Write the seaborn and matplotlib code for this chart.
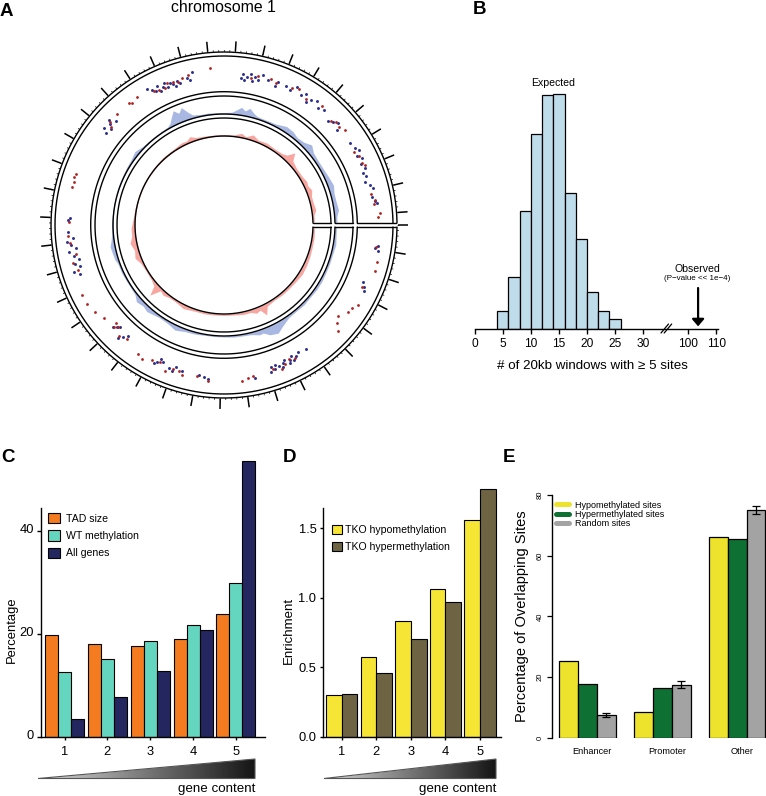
import numpy as np
import pandas as pd
import matplotlib
matplotlib.use('Agg')
import matplotlib.pyplot as plt
from matplotlib.lines import Line2D
from matplotlib.patches import Polygon
from matplotlib.transforms import ScaledTranslation
import seaborn as sns

sns.set_theme(style='ticks', rc={'axes.edgecolor': 'black', 'xtick.color': 'black', 'ytick.color': 'black',
                                 'text.color': 'black', 'axes.labelcolor': 'black', 'axes.linewidth': 1.0})
plt.rcParams['font.family'] = ['Liberation Sans', 'DejaVu Sans']

W, H = 766, 796

# panel A (degrees clockwise from 3 o'clock)
blue_deg = [1, 5, 10, 15, 20, 25, 30, 35, 40, 45, 50, 55, 60, 63.4, 67.3, 70, 72, 76, 80, 85, 90, 95, 100, 105, 110,
            115, 120, 125, 131.7, 135, 138.7, 142, 146, 150, 155, 160, 162.2, 165, 169.2, 172, 176, 180, 185, 190,
            195, 200, 205, 210, 215, 219.5, 224, 230, 236, 240, 242, 244, 246, 248, 250, 252, 254, 258, 262, 266,
            270, 274, 276, 278.5, 280.5, 282.6, 285, 287, 292, 297, 302.5, 306.6, 310, 314, 317.6, 321, 325, 330,
            335, 340, 344, 348, 352.5, 356, 359]
blue_r = [112.5, 112.5, 113.5, 112.5, 112.5, 112.5, 113, 113, 112.5, 113, 112.5, 113, 117, 121, 119, 115, 115.5, 113,
          112.5, 112.5, 112, 112, 112, 113, 113.5, 116, 113.5, 113, 116, 114.5, 116.5, 113, 112.5, 112.5, 113, 113,
          114.5, 115, 116, 114, 112.5, 112.5, 112, 112, 112, 112.5, 112.5, 113, 113.5, 115.5, 113, 112.5, 112.5, 113,
          115, 120, 125, 120.5, 125, 119, 114.5, 113, 113, 112.5, 112.5, 113, 115.5, 119, 116, 119.5, 115.5, 113.5,
          113, 113.5, 116.7, 116, 114, 115, 118.7, 115, 114, 114, 115, 116.5, 114.5, 114.5, 115.5, 113, 113]
pink_deg = [2, 8, 14, 20, 26, 32, 38, 44, 50, 56, 62, 64.6, 67, 69.7, 73, 78, 84, 90, 96, 102, 108, 116, 122, 127,
            130.9, 134, 136.6, 139, 143, 149, 155, 159.5, 164, 168.9, 173, 178, 184, 190, 196, 204, 212, 220, 228,
            236, 242.6, 246, 248.9, 252, 258, 264, 270, 276, 280.9, 284, 288, 292, 297.6, 303, 309, 312, 314.5, 317,
            322, 328, 332.3, 335, 338.2, 342, 346, 350.6, 354, 358]
pink_r = [90.5, 91, 91, 91.5, 92, 92.5, 91.5, 91, 91, 90.5, 92, 99.5, 92.5, 94, 91.5, 91.5, 90.5, 90.5, 90.5, 91, 91,
          93, 91, 91, 93, 91.5, 102, 93, 91, 90.5, 91.5, 95, 93, 95.7, 93, 93, 91, 90.5, 90, 90, 90, 90.5, 91, 91,
          92.5, 92, 94.7, 92, 91, 90.5, 90.5, 90.5, 93.3, 91, 94.7, 91.5, 92.5, 91.5, 92, 94, 101, 94, 92, 92, 93.5,
          92.5, 94.5, 92, 92, 93, 90.5, 90.5]
hypo_deg = [7.8, 8.7, 9.5, 22.5, 23.8, 25, 56.6, 60, 61.2, 62.5, 62.9, 63.8, 64.5, 66, 67, 67.5, 68.6, 69.8, 70.5,
            71.6, 72.4, 78.6, 96, 97.5, 99.5, 106, 108.5, 109.5, 111, 114, 115.2, 116, 117, 131, 132, 133, 135.5,
            136.5, 137.5, 161, 162.5, 164, 165.5, 167, 168.5, 170, 171, 172.5, 174, 175, 177.6, 181.8, 182.5, 218,
            219, 220.5, 221.5, 222.5, 223.8, 240.5, 242, 243, 244.2, 245, 246, 247, 248, 249, 250, 251, 251.8, 253,
            256, 258, 257, 276.5, 277, 278, 279, 280, 281, 282, 283, 284.5, 287, 290, 290.5, 294, 296, 298, 300.5,
            302, 303.5, 305, 307, 309, 311, 315, 316.5, 318, 320, 327, 329.5, 331, 332.5, 334, 336, 338, 339.5, 341,
            343, 344.5, 346, 349.5, 351, 352]
hypo_r = [155, 153, 156, 150, 153, 155, 149, 147, 149, 152, 147, 150, 153, 148, 150, 154, 151, 149, 153, 150, 154,
          156, 155, 153, 152, 152, 150, 155, 153, 150, 148, 152, 155, 147, 151, 155, 146, 148, 151, 152, 157, 150,
          154, 149, 153, 157, 150, 154, 158, 152, 156, 156, 154, 150, 154, 148, 152, 156, 150, 156, 153, 150, 154,
          148, 151, 154, 149, 152, 150, 147, 152, 149, 152, 156, 149, 148, 152, 146, 150, 153, 147, 151, 149, 155,
          152, 148, 153, 152, 150, 156, 151, 154, 148, 152, 155, 150, 153, 147, 150, 153, 148, 150, 152, 154, 150,
          153, 150, 152, 148, 150, 147, 151, 154, 151, 153, 155]
hyper_deg = [8.3, 13.5, 17, 24.2, 30.8, 33, 35, 38.7, 41, 43, 62, 64, 66.5, 68, 71, 79, 81, 83.6, 95.8, 100, 105.8,
             107, 109.3, 112, 115, 118, 121.7, 123.5, 130.5, 133.5, 136, 137, 138, 142.3, 146, 150, 153.8, 163, 166,
             169, 173.2, 176, 181, 194, 196, 197.8, 199, 221, 222, 225.9, 232, 233, 235.8, 242.5, 244.5, 246.5, 248,
             250.5, 252, 254, 256.5, 265, 280.5, 283, 288, 290, 296.5, 299, 303, 309.5, 316, 317.5, 319.7, 322,
             330.5, 333, 335.9, 337, 348, 350.6, 352, 355.7, 357]
hyper_r = [154, 157, 158, 151, 156, 153, 151.5, 146, 150, 156, 151, 149, 152, 155, 152, 154, 155, 157, 157, 153, 156,
           153, 153, 158, 151, 153, 157, 155, 150, 153, 147, 150, 146, 152, 155, 158, 158, 153, 156, 151, 155, 156,
           155, 157, 156, 158, 156, 150, 154, 154, 155, 153, 155, 151, 150, 149, 153, 152, 150, 153, 154, 158, 150,
           153, 153, 151, 153, 155, 150, 154, 149, 152, 151, 154, 149, 151, 151, 153, 150, 153, 151, 156, 154]
tick_mb = np.arange(0, 196, 5)
minor_mb = np.arange(0, 196, 1)
deg_per_mb = 1.825

# panel B
bin_edges = [4, 6, 8, 10, 12, 14, 16, 18, 20, 22, 24, 26]
bin_centers = [5, 7, 9, 11, 13, 15, 17, 19, 21, 23, 25]
bin_counts = [54, 156, 355, 585, 701, 704, 409, 269, 111, 54, 29]
b_ticks = [0, 5, 10, 15, 20, 25, 30, 100, 110]
observed = 103.6

# panel C
gene_bins = ['1', '2', '3', '4', '5']
tad_size = [19.9, 18.1, 17.7, 19.0, 23.8]
wt_meth = [12.7, 15.2, 18.6, 21.8, 30.0]
all_genes = [3.5, 7.8, 12.8, 20.8, 53.6]

# panel D
tko_hypo = [0.30, 0.575, 0.83, 1.06, 1.56]
tko_hyper = [0.31, 0.46, 0.70, 0.966, 1.78]

# panel E
regions = ['Enhancer', 'Promoter', 'Other']
hypo_sites = [25.3, 8.5, 66.3]
hyper_sites = [17.8, 16.5, 65.5]
random_sites = [7.5, 17.5, 75.0]
random_err = [0.8, 1.25, 1.25]

fig = plt.figure(figsize=(W / 100, H / 100), dpi=100)


def axes_px(left, top, right, bottom, **kw):
    return fig.add_axes([left / W, 1 - bottom / H, (right - left) / W, (bottom - top) / H], **kw)


def text_px(x, y, s, **kw):
    kw.setdefault('ha', 'center')
    kw.setdefault('va', 'center')
    fig.text(x / W, 1 - y / H, s, **kw)


def shift_labels(labels, dx=0, dy=0):
    off = ScaledTranslation(dx / 100, dy / 100, fig.dpi_scale_trans)
    for lab in labels:
        lab.set_transform(lab.get_transform() + off)


def gene_wedge(left, right):
    ax = axes_px(left, 759, right, 778.5)
    ax.axis('off')
    grad = np.linspace(0.85, 0.08, 256).reshape(1, -1)
    im = ax.imshow(grad, cmap='gray', vmin=0, vmax=1, aspect='auto', extent=[0, 1, 0, 1])
    tri = Polygon([[0, 0], [1, 0], [1, 1]], closed=True, transform=ax.transData, facecolor='none',
                  edgecolor='#555555', linewidth=0.8, clip_on=False)
    ax.add_patch(tri)
    im.set_clip_path(tri)
    text_px(right, 789, 'gene content', ha='right', fontsize=9.6)


# ---- A circos plot
ax = axes_px(34, 35, 414, 415, projection='polar')
ax.set_theta_direction(-1)
ax.set_theta_offset(0)
ax.fill_between(np.deg2rad(blue_deg), 111, blue_r, color='#A9B8E3', linewidth=0, zorder=1)
ax.fill_between(np.deg2rad(pink_deg), 89, pink_r, color='#F7A6A0', linewidth=0, zorder=1)
sns.scatterplot(x=np.deg2rad(hypo_deg), y=hypo_r, color='#2B2F8F', s=4.5, linewidth=0, ax=ax, zorder=2)
sns.scatterplot(x=np.deg2rad(hyper_deg), y=hyper_r, color='#B02020', s=4, linewidth=0, ax=ax, zorder=3)
for r in [89, 107, 111, 129, 133.3, 169, 173]:
    gap = np.arcsin(2.0 / r)
    th = np.linspace(gap, 2 * np.pi - gap, 500)
    ax.plot(th, np.full(500, r), color='black', lw=1.0, zorder=4)
for r0, r1 in [(89, 107), (111, 129), (133.3, 172)]:
    rr = np.linspace(r0, r1, 20)
    ax.plot(np.arcsin(2.0 / rr), rr, color='black', lw=1.0, zorder=4)
    ax.plot(-np.arcsin(2.0 / rr), rr, color='black', lw=1.0, zorder=4)
ax.vlines(np.deg2rad(minor_mb * deg_per_mb), 173, 175, color='black', lw=0.5)
ax.vlines(np.deg2rad(tick_mb * deg_per_mb), 174, 184, color='black', lw=1.1)
ax.set_rlim(0, 190)
ax.axis('off')
text_px(223, 7, 'chromosome 1', fontsize=11.4)

# ---- B histogram with broken axis
def broken_x(v):
    return v if v <= 35 else 38 + (v - 100) * 0.5


ax = axes_px(474.7, 80, 718.3, 329)
sns.histplot(x=bin_centers, weights=bin_counts, bins=bin_edges, color='#BFDCEB', alpha=1, edgecolor='black',
             linewidth=0.9, ax=ax)
ax.set_xlim(0, 43.4)
ax.set_ylim(0, 747)
sns.despine(ax=ax, left=True)
ax.set_yticks([])
ax.set_ylabel('')
ax.set_xticks([broken_x(v) for v in b_ticks])
ax.set_xticklabels(b_ticks, fontsize=8.6)
ax.tick_params(axis='x', length=3.8, width=1, pad=3)
ax.annotate('', xy=(broken_x(observed), 8), xytext=(broken_x(observed), 123),
            arrowprops=dict(arrowstyle='-|>,head_width=0.3,head_length=0.35', color='black', lw=1.6, shrinkA=0, shrinkB=0))
ax.set_xlabel('')
for dx in (0, 3.2):
    fig.add_artist(Line2D([(661 + dx) / W, (668.5 + dx) / W], [1 - 333 / H, 1 - 324 / H], color='black', lw=0.9))
text_px(553, 83, 'Expected', fontsize=7.6)
text_px(697, 269, 'Observed', fontsize=7.6)
text_px(697, 279, '(P\u2212value << 1e\u22124)', fontsize=5.8)
text_px(592, 366, '# of 20kb windows with \u2265 5 sites', fontsize=9.6)

# ---- C
df_c = pd.DataFrame({'bin': gene_bins, 'TAD size': tad_size, 'WT methylation': wt_meth, 'All genes': all_genes})
df_c = df_c.melt(id_vars='bin', var_name='series', value_name='value')
ax = axes_px(41, 455, 265, 737)
sns.barplot(data=df_c, x='bin', y='value', hue='series', palette=['#F47B20', '#64D6C0', '#23265F'], width=0.91,
            gap=0, saturation=1, edgecolor='black', linewidth=0.8, errorbar=None, ax=ax)
ax.set_xlim(-0.55, 4.68)
ax.set_ylim(0, 54.76)
ax.spines['left'].set_bounds(0, 44.47)
sns.despine(ax=ax)
ax.set_yticks([0, 20, 40])
ax.tick_params(axis='y', length=3, width=1, labelsize=9.3, pad=2)
ax.tick_params(axis='x', length=2, width=1, labelsize=9.3, pad=4.5)
shift_labels(ax.get_yticklabels(), dy=2.7)
ax.set_xlabel('')
ax.set_ylabel('')
ax.legend(loc='upper left', bbox_to_anchor=(48 / W, 1 - 513 / H), bbox_transform=fig.transFigure, frameon=False,
          fontsize=7.6, title=None, borderpad=0, borderaxespad=0, handlelength=1.14, handleheight=1.14,
          handletextpad=0.54, labelspacing=0.62)
text_px(11.7, 630, 'Percentage', fontsize=9.4, rotation=90)
gene_wedge(38, 255)

# ---- D
df_d = pd.DataFrame({'bin': gene_bins, 'TKO hypomethylation': tko_hypo, 'TKO hypermethylation': tko_hyper})
df_d = df_d.melt(id_vars='bin', var_name='series', value_name='value')
ax = axes_px(322.7, 440, 500.7, 736.7)
sns.barplot(data=df_d, x='bin', y='value', hue='series', palette=['#F7E535', '#6E6443'], width=0.907, gap=0,
            saturation=1, edgecolor='black', linewidth=0.8, errorbar=None, ax=ax)
ax.set_xlim(-0.55, 4.6)
ax.set_ylim(0, 2.134)
ax.spines['left'].set_bounds(0, 1.645)
sns.despine(ax=ax)
ax.set_yticks([0, 0.5, 1.0, 1.5])
ax.set_yticklabels(['0.0', '0.5', '1.0', '1.5'])
ax.tick_params(axis='y', length=2, width=1, labelsize=9.3, pad=2.5)
ax.tick_params(axis='x', length=2, width=1, labelsize=9.3, pad=4.5)
ax.set_xlabel('')
ax.set_ylabel('')
ax.legend(loc='upper left', bbox_to_anchor=(331.7 / W, 1 - 525 / H), bbox_transform=fig.transFigure, frameon=False,
          fontsize=7.6, title=None, borderpad=0, borderaxespad=0, handlelength=0.95, handleheight=0.95,
          handletextpad=0.3, labelspacing=0.6)
text_px(289, 630, 'Enrichment', fontsize=9.5, rotation=90)
gene_wedge(324, 496)

# ---- E
e_colors = ['#EDE32D', '#0E7033', '#A3A3A3']
df_e = pd.DataFrame({'region': regions, 'Hypomethylated sites': hypo_sites, 'Hypermethylated sites': hyper_sites,
                     'Random sites': random_sites})
df_e = df_e.melt(id_vars='region', var_name='series', value_name='value')
ax = axes_px(551.7, 495, 766, 737.7)
sns.barplot(data=df_e, x='region', y='value', hue='series', palette=e_colors, width=0.752, gap=0, saturation=1,
            edgecolor='black', linewidth=0.9, errorbar=None, legend=False, ax=ax)
err_x = [p.get_x() + p.get_width() / 2 for p in ax.containers[2]]
ax.errorbar(err_x, random_sites, yerr=random_err, fmt='none', ecolor='black', elinewidth=0.9, capsize=3.2, capthick=0.9)
ax.set_xlim(-0.477, 2.383)
ax.set_ylim(0, 80)
ax.set_yticks([0, 20, 40, 60, 80])
sns.despine(ax=ax, bottom=True)
ax.tick_params(axis='x', length=0, labelsize=6.6, pad=6.5)
ax.tick_params(axis='y', length=3.6, width=0.9, labelsize=5.5, pad=2)
plt.setp(ax.get_yticklabels(), rotation=90, va='center')
shift_labels(ax.get_xticklabels(), dx=4.5)
ax.set_xlabel('')
ax.set_ylabel('')
handles = [Line2D([0], [0], color=c, lw=3.6, solid_capstyle='round') for c in e_colors]
ax.legend(handles, ['Hypomethylated sites', 'Hypermethylated sites', 'Random sites'], loc='upper left',
          bbox_to_anchor=(556 / W, 1 - 500.5 / H), bbox_transform=fig.transFigure, frameon=False, fontsize=6.5,
          borderpad=0, borderaxespad=0, handlelength=1.4, handletextpad=0.7, labelspacing=0.05)
text_px(522, 616, 'Percentage of Overlapping Sites', fontsize=10.5, rotation=90)

# panel letters
for x, y, letter in [(0, 11, 'A'), (473, 10, 'B'), (1, 457, 'C'), (283, 457, 'D'), (503, 457, 'E')]:
    text_px(x, y, letter, ha='left', fontsize=13.5, fontweight='bold')

fig.savefig('out.png', dpi=100)
